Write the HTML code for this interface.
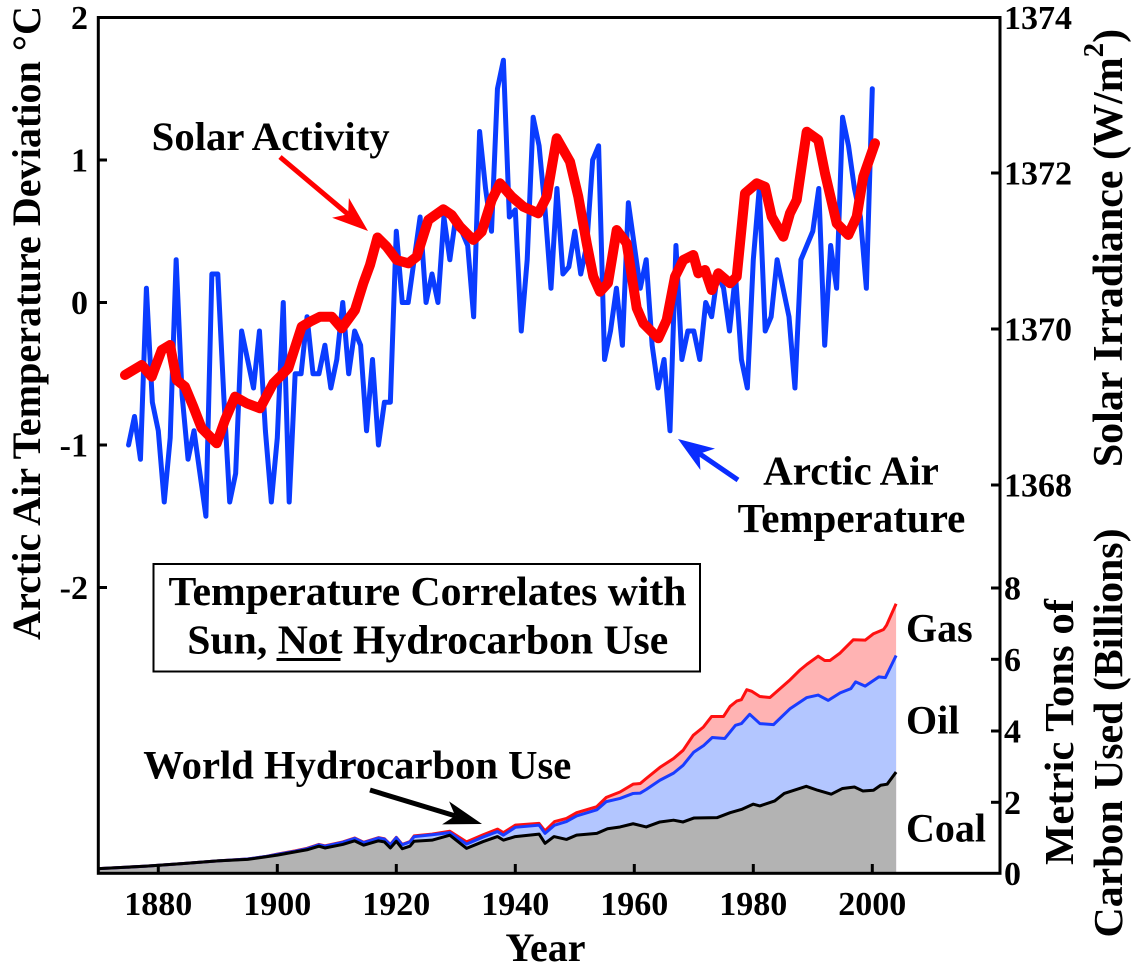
<!DOCTYPE html>
<html>
<head>
<meta charset="utf-8">
<style>
html,body{margin:0;padding:0;background:#fff;}
svg{display:block;}
text{font-family:"Liberation Serif","Times New Roman",serif;font-weight:bold;fill:#000;}
</style>
</head>
<body>
<svg width="1133" height="972" viewBox="0 0 1133 972" xmlns="http://www.w3.org/2000/svg">
<rect x="0" y="0" width="1133" height="972" fill="#fff"/>

<!-- Hydrocarbon fills -->
<g transform="translate(98.8,873.3) scale(5.95,-35.65)">
  <polygon fill="#ffb3b3" points="0,0 0,0.13 8,0.20 14,0.27 20,0.35 25,0.40 28,0.47 30,0.54 33,0.63 35,0.70 37,0.81 38,0.77 41,0.88 43,0.99 44.5,0.87 47,1.00 48,0.97 49,0.81 50,1.01 51,0.81 52.3,0.89 53,1.05 56,1.10 59,1.18 61.8,0.88 64.6,1.08 67,1.24 68,1.14 70,1.35 74,1.40 75,1.19 76.6,1.45 78.6,1.54 80.3,1.70 83.7,1.87 85.3,2.13 87.6,2.28 89.8,2.50 91,2.52 92,2.66 94.3,2.97 96.6,3.22 98.2,3.45 99.9,3.87 101.6,4.10 103,4.40 105,4.40 106.1,4.68 107.2,4.83 108,4.87 108.9,5.15 109.7,5.11 111.1,4.96 112.8,4.93 114.5,5.18 116.2,5.43 117.9,5.71 119,5.86 120.9,6.09 122,5.97 122.9,5.97 124.6,6.18 126.8,6.55 128.8,6.54 130.2,6.72 131.9,6.84 132.4,6.96 134,7.56 134,0"/>
  <polygon fill="#b3c6ff" points="0,0 0,0.13 8,0.20 14,0.27 20,0.35 25,0.40 28,0.47 30,0.53 33,0.62 35,0.69 37,0.80 38,0.76 41,0.87 43,0.98 44.5,0.86 47,0.99 48,0.96 49,0.80 50,1.00 51,0.80 52.3,0.88 53,1.03 56,1.08 59,1.14 61.8,0.82 64.6,1.02 67,1.17 68,1.07 70,1.29 74,1.35 75,1.12 76.6,1.35 78.6,1.45 80.3,1.61 83.7,1.78 85.3,2.01 87.6,2.10 89.8,2.24 91,2.25 92,2.35 94.3,2.61 96.6,2.81 98.2,3.03 100,3.40 101.7,3.59 103.1,3.81 105.2,3.78 107,4.15 108,4.20 109.4,4.46 111.1,4.20 113.4,4.17 116.2,4.62 119,4.93 120.9,5.00 122.6,4.85 124.6,5.06 126.4,5.18 127.2,5.37 128.8,5.25 131.1,5.51 132.2,5.49 134,6.11 134,0"/>
  <polygon fill="#b3b3b3" points="0,0 0,0.13 8,0.20 14,0.27 20,0.35 25,0.39 28,0.46 30,0.51 33,0.60 35,0.66 37,0.76 38,0.71 41,0.81 43,0.91 44.5,0.79 47,0.91 48,0.88 49,0.71 50,0.90 51,0.69 52.3,0.76 53,0.90 56,0.93 59,1.07 61.8,0.70 64.6,0.89 67,1.03 68,0.93 70,1.03 74,1.10 75,0.84 76.5,1.03 78.6,0.95 80.3,1.07 83.7,1.12 85.5,1.25 87.6,1.30 89.8,1.39 92,1.30 94.3,1.44 96.6,1.49 98.2,1.44 100,1.55 103.9,1.56 106.1,1.70 108,1.79 110,1.94 111.1,1.89 113.6,2.03 115.2,2.24 118.9,2.44 120.8,2.33 123.1,2.22 125,2.38 127,2.42 128.4,2.31 130.2,2.33 131.4,2.47 132.5,2.50 134,2.84 134,0"/>
  <polyline fill="none" stroke="#ff1010" stroke-width="3" vector-effect="non-scaling-stroke" stroke-linejoin="round" points="0,0.13 8,0.20 14,0.27 20,0.35 25,0.40 28,0.47 30,0.54 33,0.63 35,0.70 37,0.81 38,0.77 41,0.88 43,0.99 44.5,0.87 47,1.00 48,0.97 49,0.81 50,1.01 51,0.81 52.3,0.89 53,1.05 56,1.10 59,1.18 61.8,0.88 64.6,1.08 67,1.24 68,1.14 70,1.35 74,1.40 75,1.19 76.6,1.45 78.6,1.54 80.3,1.70 83.7,1.87 85.3,2.13 87.6,2.28 89.8,2.50 91,2.52 92,2.66 94.3,2.97 96.6,3.22 98.2,3.45 99.9,3.87 101.6,4.10 103,4.40 105,4.40 106.1,4.68 107.2,4.83 108,4.87 108.9,5.15 109.7,5.11 111.1,4.96 112.8,4.93 114.5,5.18 116.2,5.43 117.9,5.71 119,5.86 120.9,6.09 122,5.97 122.9,5.97 124.6,6.18 126.8,6.55 128.8,6.54 130.2,6.72 131.9,6.84 132.4,6.96 134,7.56"/>
  <polyline fill="none" stroke="#1a3cff" stroke-width="3" vector-effect="non-scaling-stroke" stroke-linejoin="round" points="0,0.13 8,0.20 14,0.27 20,0.35 25,0.40 28,0.47 30,0.53 33,0.62 35,0.69 37,0.80 38,0.76 41,0.87 43,0.98 44.5,0.86 47,0.99 48,0.96 49,0.80 50,1.00 51,0.80 52.3,0.88 53,1.03 56,1.08 59,1.14 61.8,0.82 64.6,1.02 67,1.17 68,1.07 70,1.29 74,1.35 75,1.12 76.6,1.35 78.6,1.45 80.3,1.61 83.7,1.78 85.3,2.01 87.6,2.10 89.8,2.24 91,2.25 92,2.35 94.3,2.61 96.6,2.81 98.2,3.03 100,3.40 101.7,3.59 103.1,3.81 105.2,3.78 107,4.15 108,4.20 109.4,4.46 111.1,4.20 113.4,4.17 116.2,4.62 119,4.93 120.9,5.00 122.6,4.85 124.6,5.06 126.4,5.18 127.2,5.37 128.8,5.25 131.1,5.51 132.2,5.49 134,6.11"/>
  <polyline fill="none" stroke="#000" stroke-width="3" vector-effect="non-scaling-stroke" stroke-linejoin="round" points="0,0.13 8,0.20 14,0.27 20,0.35 25,0.39 28,0.46 30,0.51 33,0.60 35,0.66 37,0.76 38,0.71 41,0.81 43,0.91 44.5,0.79 47,0.91 48,0.88 49,0.71 50,0.90 51,0.69 52.3,0.76 53,0.90 56,0.93 59,1.07 61.8,0.70 64.6,0.89 67,1.03 68,0.93 70,1.03 74,1.10 75,0.84 76.5,1.03 78.6,0.95 80.3,1.07 83.7,1.12 85.5,1.25 87.6,1.30 89.8,1.39 92,1.30 94.3,1.44 96.6,1.49 98.2,1.44 100,1.55 103.9,1.56 106.1,1.70 108,1.79 110,1.94 111.1,1.89 113.6,2.03 115.2,2.24 118.9,2.44 120.8,2.33 123.1,2.22 125,2.38 127,2.42 128.4,2.31 130.2,2.33 131.4,2.47 132.5,2.50 134,2.84"/>
</g>

<!-- Arctic temperature (blue) -->
<g transform="translate(98.8,302.5) scale(5.95,-142.5)">
  <polyline fill="none" stroke="#0a3cff" stroke-width="5" vector-effect="non-scaling-stroke" stroke-linejoin="round" stroke-linecap="round" points="5,-1.0 6,-0.8 7,-1.1 8,0.1 9,-0.7 10,-0.9 11,-1.4 12,-0.95 13,0.3 14,-0.65 15,-1.1 16,-0.9 17,-1.2 18,-1.5 19,0.2 20,0.2 21,-0.65 22,-1.4 23,-1.2 24,-0.2 25,-0.4 26,-0.6 27,-0.2 28,-0.9 29,-1.4 30,-0.95 31,0.0 32,-1.4 33,-0.5 34,-0.5 35,-0.1 36,-0.5 37,-0.5 38,-0.3 39,-0.6 40,-0.4 41,0.0 42,-0.5 43,-0.2 44,-0.3 45,-0.9 46,-0.4 47,-1.0 48,-0.7 49,-0.7 50,0.5 51,0.0 52,0.0 53,0.3 54,0.6 55,0.0 56,0.2 57,0.0 58,0.6 59,0.3 60,0.6 61,0.5 62,0.4 63,-0.1 64,1.2 65,0.8 66,0.5 67,1.5 68,1.7 69,0.6 70,0.65 71,-0.2 72,0.3 73,1.3 74,1.1 75,0.65 76,0.1 77,0.8 78,0.2 79,0.25 80,0.5 81,0.2 82,0.4 83,1.0 84,1.1 85,-0.4 86,-0.2 87,0.1 88,-0.3 89,0.7 90,0.4 91,0.1 92,0.3 93,-0.3 94,-0.6 95,-0.4 96,-0.9 97,0.4 98,-0.4 99,-0.2 100,-0.2 101,-0.4 102,0.0 103,-0.1 104,0.2 105,0.1 106,-0.2 107,0.2 108,-0.4 109,-0.6 110,0.3 111,0.8 112,-0.2 113,-0.1 114,0.3 115,0.1 116,-0.1 117,-0.6 118,0.3 119,0.4 120,0.5 121,0.8 122,-0.3 123,0.4 124,0.1 125,1.3 126,1.1 127,0.8 128,0.6 129,0.1 130,1.5"/>
</g>

<!-- Solar activity (red) -->
<polyline fill="none" stroke="#ff0000" stroke-width="10" stroke-linejoin="round" stroke-linecap="round" points="125,375 141.7,365 151.7,376.7 161.7,350 170,345 176.7,380 185,386.7 193.3,406.7 201.7,428.3 216.7,443.3 225,420 235,396.7 246.7,403.3 260,408.3 273.3,383.3 288.3,368.3 301.7,326.7 310,321.7 320,316.7 331.7,316.7 341.7,328.3 355,310 363.3,283.3 370,265 377.5,237.5 386.7,246.7 396.7,260 408.3,263.3 416.7,256.7 428.3,220 443.3,209.3 451.7,215 460,226.7 473.3,240 481.7,231.7 491.7,200 500,183.3 511.7,196.7 523.3,206.7 538.3,213.3 546.7,196.7 556.7,138.3 563.3,150 570,161.7 578.3,196.7 586.7,243.3 593.3,276.7 600,291.7 608,283 616.7,230 626.7,243.3 636.7,308 643.3,323.3 658.3,338.3 666.7,320 675,276.7 683.3,260 693.3,255 698.3,273.3 705,270 711.7,290 718.3,273.3 730,283.3 736.7,276.7 745,193.3 756.7,183.3 765,186.7 771.7,216.7 783.3,236.7 790,213.3 796.7,200 806.7,131.7 818.3,140 825,173.3 836.7,223.3 848.3,235 856.7,216.7 863.3,176.7 875,143.3"/>

<!-- Frame -->
<rect x="98.3" y="17.5" width="901.7" height="855.8" fill="none" stroke="#000" stroke-width="3"/>

<!-- Ticks -->
<g stroke="#000" stroke-width="3">
  <line x1="98" y1="160" x2="107" y2="160"/>
  <line x1="98" y1="302.5" x2="107" y2="302.5"/>
  <line x1="98" y1="445" x2="107" y2="445"/>
  <line x1="98" y1="587.5" x2="107" y2="587.5"/>
  <line x1="991" y1="173" x2="1000" y2="173"/>
  <line x1="991" y1="329" x2="1000" y2="329"/>
  <line x1="991" y1="485" x2="1000" y2="485"/>
  <line x1="991" y1="588" x2="1000" y2="588"/>
  <line x1="991" y1="659.3" x2="1000" y2="659.3"/>
  <line x1="991" y1="731" x2="1000" y2="731"/>
  <line x1="991" y1="802.3" x2="1000" y2="802.3"/>
  <line x1="158.3" y1="864" x2="158.3" y2="873"/>
  <line x1="277.3" y1="864" x2="277.3" y2="873"/>
  <line x1="396.3" y1="864" x2="396.3" y2="873"/>
  <line x1="515.3" y1="864" x2="515.3" y2="873"/>
  <line x1="634.3" y1="864" x2="634.3" y2="873"/>
  <line x1="753.3" y1="864" x2="753.3" y2="873"/>
  <line x1="872.3" y1="864" x2="872.3" y2="873"/>
</g>

<!-- Left tick labels -->
<g font-size="34" text-anchor="end">
  <text x="88" y="29">2</text>
  <text x="88" y="171.5">1</text>
  <text x="88" y="314">0</text>
  <text x="88" y="456.5">-1</text>
  <text x="88" y="599">-2</text>
</g>
<!-- Right tick labels -->
<g font-size="34" text-anchor="start">
  <text x="1004" y="29">1374</text>
  <text x="1004" y="184.5">1372</text>
  <text x="1004" y="340.5">1370</text>
  <text x="1004" y="496.5">1368</text>
  <text x="1004" y="599.5">8</text>
  <text x="1004" y="670.8">6</text>
  <text x="1004" y="742.5">4</text>
  <text x="1004" y="813.8">2</text>
  <text x="1004" y="884.8">0</text>
</g>
<!-- Bottom tick labels -->
<g font-size="34" text-anchor="middle">
  <text x="158.3" y="915">1880</text>
  <text x="277.3" y="915">1900</text>
  <text x="396.3" y="915">1920</text>
  <text x="515.3" y="915">1940</text>
  <text x="634.3" y="915">1960</text>
  <text x="753.3" y="915">1980</text>
  <text x="872.3" y="915">2000</text>
</g>

<text x="545.5" y="961" font-size="40" text-anchor="middle">Year</text>

<!-- Axis titles -->
<text transform="translate(40,323) rotate(-90)" x="0" y="0" font-size="40" text-anchor="middle" textLength="634" lengthAdjust="spacingAndGlyphs">Arctic Air Temperature Deviation °C</text>
<text transform="translate(1122,248) rotate(-90)" x="0" y="0" font-size="42" text-anchor="middle">Solar Irradiance (W/m<tspan font-size="29" dy="-19">2</tspan><tspan dy="19">)</tspan></text>
<text transform="translate(1073,732) rotate(-90)" x="0" y="0" font-size="41" text-anchor="middle" textLength="266" lengthAdjust="spacingAndGlyphs">Metric Tons of</text>
<text transform="translate(1122,733) rotate(-90)" x="0" y="0" font-size="41" text-anchor="middle" textLength="409" lengthAdjust="spacingAndGlyphs">Carbon Used (Billions)</text>

<!-- Annotations -->
<text x="151.7" y="150" font-size="40" textLength="238" lengthAdjust="spacingAndGlyphs">Solar Activity</text>
<text x="851" y="484.4" font-size="41" text-anchor="middle">Arctic Air</text>
<text x="851.5" y="532" font-size="41" text-anchor="middle">Temperature</text>
<text x="143.3" y="778.3" font-size="40" textLength="428" lengthAdjust="spacingAndGlyphs">World Hydrocarbon Use</text>

<text x="906" y="641.7" font-size="40">Gas</text>
<text x="906" y="733.3" font-size="40">Oil</text>
<text x="906" y="841.7" font-size="40">Coal</text>

<!-- Box -->
<rect x="153.5" y="564" width="546.5" height="107.5" fill="#fff" stroke="#000" stroke-width="2"/>
<text x="427.5" y="605" font-size="41" text-anchor="middle" textLength="518" lengthAdjust="spacingAndGlyphs">Temperature Correlates with</text>
<text x="427.8" y="653.3" font-size="41" text-anchor="middle" textLength="481" lengthAdjust="spacingAndGlyphs">Sun, Not Hydrocarbon Use</text>
<rect x="276.5" y="658" width="64" height="3" fill="#000"/>

<!-- Arrows -->
<line x1="280" y1="157" x2="348.1" y2="214.3" stroke="#ff0000" stroke-width="5"/>
<polygon fill="#ff0000" points="368,231 332.1,217.8 348.1,214.3 348.9,198"/>

<line x1="738" y1="480" x2="699.5" y2="453.7" stroke="#0a2cff" stroke-width="5"/>
<polygon fill="#0a2cff" points="678,439 715,448.6 699.5,453.7 700.4,470"/>

<line x1="370" y1="790" x2="455.2" y2="815.9" stroke="#000" stroke-width="5"/>
<polygon fill="#000" points="482,824 442.1,824.4 455.2,815.9 449.1,801.4"/>

</svg>
</body>
</html>
